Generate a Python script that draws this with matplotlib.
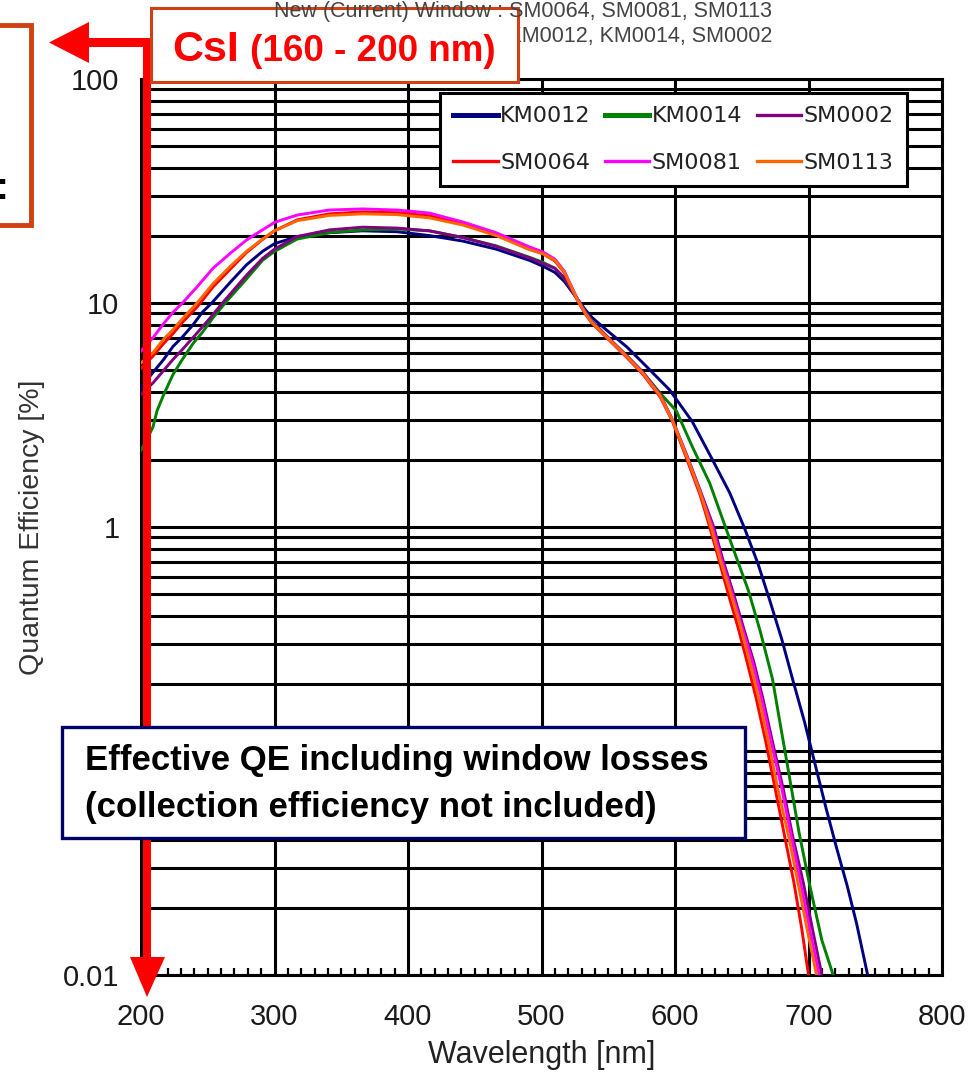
import matplotlib
matplotlib.use('Agg')
import matplotlib.pyplot as plt
from matplotlib.patches import Rectangle, Polygon
from matplotlib.ticker import LogLocator, MultipleLocator, FuncFormatter, NullFormatter

plt.rcParams['font.family'] = ['Liberation Sans', 'DejaVu Sans']

W, H = 977, 1076

# --- data ----------------------------------------------------------------
names = ['KM0012', 'KM0014', 'SM0002', 'SM0064', 'SM0081', 'SM0113']
colors = ['#000080', '#008000', '#800080', '#FF0000', '#FF00FF', '#FF6600']

wl_km0012 = [200, 209, 217, 224, 231, 239, 246, 253, 267, 279, 291, 300, 317, 341, 366, 392, 416,
             441, 466, 491, 501, 510, 517, 522, 527, 533, 538, 549, 564, 579, 596, 613, 628, 641,
             652, 662, 671, 680, 688, 697, 705, 713, 721, 729, 736, 744, 750]
qe_km0012 = [4.2, 4.9, 5.6, 6.4, 7.05, 8.0, 9.1, 10.0, 12.4, 14.8, 17.0, 18.4, 19.8, 20.6, 21.0,
             20.8, 20.0, 18.9, 17.4, 15.5, 14.6, 13.7, 12.5, 11.4, 10.4, 9.3, 8.6, 7.55, 6.36,
             5.18, 4.09, 2.95, 2.0, 1.42, 0.99, 0.69, 0.47, 0.315, 0.21, 0.135, 0.087, 0.056,
             0.037, 0.025, 0.017, 0.0102, 0.0075]

wl_km0014 = [200, 205, 209, 212, 217, 224, 231, 239, 246, 254, 263, 279, 291, 300, 317, 341, 366,
             392, 416, 441, 466, 491, 501, 510, 517, 522, 527, 533, 538, 551, 564, 576, 589, 601,
             613, 626, 636, 646, 655, 664, 673, 679, 686, 693, 701, 710, 718, 724]
qe_km0014 = [2.2, 2.5, 2.8, 3.3, 3.9, 4.8, 5.6, 6.6, 7.4, 8.6, 10.0, 12.8, 15.5, 17.0, 19.3, 20.6,
             21.2, 21.4, 21.0, 19.6, 18.0, 16.0, 15.2, 14.3, 12.9, 11.6, 10.4, 9.1, 8.3, 6.9, 5.8,
             4.9, 3.95, 3.3, 2.28, 1.57, 1.07, 0.73, 0.52, 0.34, 0.21, 0.13, 0.075, 0.043, 0.025,
             0.0143, 0.0102, 0.008]

wl_sm0002 = [200, 209, 217, 224, 231, 242, 252, 261, 267, 279, 291, 300, 317, 341, 366, 392, 416,
             441, 466, 491, 501, 510, 517, 522, 527, 533, 538, 551, 564, 576, 589, 598, 609, 619,
             629, 636, 644, 651, 659, 666, 673, 681, 688, 696, 703, 710, 714]
qe_sm0002 = [3.9, 4.4, 5.0, 5.6, 6.2, 7.35, 8.6, 10.0, 11.0, 13.3, 15.8, 17.4, 19.8, 21.2, 21.8,
             21.6, 21.0, 19.6, 17.9, 15.9, 15.0, 14.3, 13.0, 11.6, 10.3, 9.0, 8.2, 6.9, 5.8, 4.9,
             3.9, 3.02, 2.08, 1.45, 1.0, 0.71, 0.50, 0.36, 0.25, 0.17, 0.11, 0.068, 0.042, 0.026,
             0.016, 0.010, 0.0075]

wl_sm0064 = [200, 209, 217, 224, 231, 242, 254, 267, 279, 291, 300, 317, 341, 366, 392, 416, 441,
             466, 491, 501, 510, 517, 522, 527, 533, 538, 551, 564, 576, 589, 598, 609, 619, 626,
             633, 640, 647, 654, 661, 668, 675, 682, 689, 695, 700, 704]
qe_sm0064 = [5.1, 5.8, 6.6, 7.3, 8.2, 9.6, 11.8, 14.2, 16.8, 19.2, 21.0, 23.5, 25.0, 25.5, 25.3,
             24.5, 22.6, 20.2, 17.4, 16.6, 15.4, 13.7, 11.9, 10.3, 8.9, 8.1, 6.8, 5.7, 4.8, 3.8,
             2.97, 2.0, 1.38, 1.0, 0.71, 0.50, 0.36, 0.25, 0.17, 0.11, 0.068, 0.042, 0.026, 0.016,
             0.010, 0.0075]

wl_sm0081 = [200, 209, 217, 224, 231, 242, 254, 267, 279, 291, 300, 317, 341, 366, 392, 416, 441,
             466, 491, 501, 510, 517, 522, 527, 533, 538, 551, 564, 576, 589, 598, 609, 619, 628,
             635, 643, 650, 658, 665, 672, 680, 687, 694, 701, 708, 712]
qe_sm0081 = [6.1, 7.0, 8.1, 9.1, 10.0, 11.8, 14.3, 16.7, 19.1, 21.2, 22.9, 24.7, 26.0, 26.3, 26.0,
             25.2, 23.0, 20.6, 17.8, 16.9, 15.7, 13.9, 12.0, 10.4, 9.0, 8.2, 6.85, 5.75, 4.85,
             3.85, 3.0, 2.05, 1.42, 1.0, 0.71, 0.50, 0.36, 0.25, 0.17, 0.11, 0.068, 0.042, 0.026,
             0.016, 0.010, 0.0075]

wl_sm0113 = [200, 209, 217, 224, 231, 242, 254, 267, 279, 291, 300, 317, 341, 366, 392, 416, 441,
             466, 491, 501, 510, 517, 522, 527, 533, 538, 551, 564, 576, 589, 598, 609, 619, 627,
             634, 642, 649, 656, 663, 670, 677, 685, 692, 699, 706, 710]
qe_sm0113 = [5.4, 6.0, 6.9, 7.6, 8.5, 10.0, 12.2, 14.6, 17.0, 19.3, 21.0, 23.3, 24.6, 25.0, 24.8,
             24.0, 22.3, 20.0, 17.3, 16.6, 15.5, 13.8, 11.9, 10.3, 8.95, 8.15, 6.85, 5.75, 4.85,
             3.85, 3.0, 2.05, 1.42, 1.0, 0.71, 0.50, 0.36, 0.25, 0.17, 0.11, 0.068, 0.042, 0.026,
             0.016, 0.010, 0.0075]

series = [(wl_km0012, qe_km0012), (wl_km0014, qe_km0014), (wl_sm0002, qe_sm0002),
          (wl_sm0064, qe_sm0064), (wl_sm0081, qe_sm0081), (wl_sm0113, qe_sm0113)]

y_tick_labels = {100: '100', 10: '10', 1: '1', 0.01: '0.01'}  # 0.1 sits under the note box

title_new = 'New (Current) Window : SM0064, SM0081, SM0113'
title_old = 'Old (Previous) Window : KM0012, KM0014, SM0002'
note_lines = ['Effective QE including window losses', '(collection efficiency not included)']


def fx(x):
    return x / W


def fy(y):
    return 1 - y / H


def ytick_fmt(v, pos):
    for k, s in y_tick_labels.items():
        if abs(v - k) < k * 1e-6:
            return s
    return ''


fig = plt.figure(figsize=(W / 100, H / 100), dpi=100)
ax = fig.add_axes([fx(141), fy(975), fx(942) - fx(141), fy(79) - fy(975)])

lines = []
for (wl, qe), name, c in zip(series, names, colors):
    ln, = ax.plot(wl, qe, color=c, lw=2.1, label=name, solid_joinstyle='round', zorder=3)
    lines.append(ln)

ax.set_yscale('log')
ax.set_xlim(200, 800)
ax.set_ylim(0.01, 100)

ax.xaxis.set_major_locator(MultipleLocator(100))
ax.xaxis.set_minor_locator(MultipleLocator(10))
ax.yaxis.set_major_locator(LogLocator(base=10, numticks=10))
ax.yaxis.set_minor_locator(LogLocator(base=10, subs=range(2, 10), numticks=50))
ax.yaxis.set_major_formatter(FuncFormatter(ytick_fmt))
ax.yaxis.set_minor_formatter(NullFormatter())

ax.grid(True, which='major', axis='x', color='black', lw=2.2)
ax.grid(True, which='both', axis='y', color='black', lw=2.2)
ax.set_axisbelow(True)

ax.tick_params(axis='y', which='both', length=0, pad=15.5, labelsize=21, labelcolor='#1a1a1a')
ax.tick_params(axis='x', which='major', length=0, pad=20, labelsize=21, labelcolor='#1a1a1a')
ax.tick_params(axis='x', which='minor', direction='in', length=5, width=1.6, color='black')
for sp in ax.spines.values():
    sp.set_linewidth(2.2)
    sp.set_color('black')

ax.set_xlabel('Wavelength [nm]', fontsize=22, color='#222222')
ax.xaxis.set_label_coords(0.5, -0.072)
ax.set_ylabel('Quantum Efficiency [%]', fontsize=20.5, color='#333333')
ax.yaxis.set_label_coords(-0.12, 0.5)

# legend laid out row-wise like the original
order = [0, 3, 1, 4, 2, 5]
leg = ax.legend([lines[i] for i in order], [names[i] for i in order], ncol=3,
                loc='upper left', bbox_to_anchor=(fx(440), fy(93)),
                bbox_transform=fig.transFigure, borderaxespad=0, frameon=True,
                fancybox=False, framealpha=1, edgecolor='black',
                prop={'family': 'DejaVu Sans', 'size': 16}, handlelength=2.0,
                handletextpad=0.1, columnspacing=0.65, labelspacing=1.2, borderpad=0.6)
leg.get_frame().set_linewidth(2.2)
leg.set_zorder(6)
for t in leg.get_texts():
    t.set_color('#222222')
for h, i in zip(leg.legend_handles, order):
    h.set_linewidth(3.6 if names[i].startswith('KM') else 2.4)

# header text (partly hidden by the CsI box, as in the original slide)
fig.text(fx(772), fy(17), title_new, ha='right', va='baseline', fontsize=15.5,
         color='#444444', zorder=8)
fig.text(fx(772), fy(42), title_old, ha='right', va='baseline', fontsize=15.5,
         color='#444444', zorder=3)

# red CsI arrows
red = '#FF0000'
fig.add_artist(Rectangle((fx(143), fy(962)), fx(151) - fx(143), fy(38) - fy(962),
                         transform=fig.transFigure, color=red, lw=0, zorder=5))
fig.add_artist(Polygon([(fx(130), fy(957)), (fx(165), fy(957)), (fx(147), fy(997))],
                       closed=True, transform=fig.transFigure, color=red, lw=0, zorder=5))
fig.add_artist(Rectangle((fx(86), fy(47)), fx(151) - fx(86), fy(38) - fy(47),
                         transform=fig.transFigure, color=red, lw=0, zorder=5))
fig.add_artist(Polygon([(fx(49), fy(42.5)), (fx(89), fy(22)), (fx(89), fy(63))],
                       closed=True, transform=fig.transFigure, color=red, lw=0, zorder=5))

# CsI box
box_edge = '#D04010'
fig.add_artist(Rectangle((fx(151), fy(82)), fx(518) - fx(151), fy(8) - fy(82),
                         transform=fig.transFigure, facecolor='white', edgecolor=box_edge,
                         lw=2.2, zorder=6))
fig.text(fx(172), fy(61), 'CsI', ha='left', va='baseline', fontsize=31,
         fontweight='bold', color=red, zorder=7)
fig.text(fx(250), fy(61), '(160 - 200 nm)', ha='left', va='baseline', fontsize=26.5,
         fontweight='bold', color=red, zorder=7)

# partial box on the far left
fig.add_artist(Rectangle((fx(-20), fy(225)), fx(31) - fx(-20), fy(25) - fy(225),
                         transform=fig.transFigure, facecolor='white', edgecolor=box_edge,
                         lw=3.5, zorder=6))
fig.text(fx(8), fy(199), ':', ha='right', va='baseline', fontsize=28,
         fontweight='bold', color='black', zorder=7)

# note box
fig.add_artist(Rectangle((fx(62), fy(838)), fx(745) - fx(62), fy(727) - fy(838),
                         transform=fig.transFigure, facecolor='white', edgecolor='#000066',
                         lw=2.4, zorder=6))
fig.text(fx(85), fy(770), note_lines[0], ha='left', va='baseline', fontsize=25,
         fontweight='bold', color='black', zorder=7)
fig.text(fx(85), fy(817), note_lines[1], ha='left', va='baseline', fontsize=25,
         fontweight='bold', color='black', zorder=7)

fig.savefig('out.png', dpi=100)
